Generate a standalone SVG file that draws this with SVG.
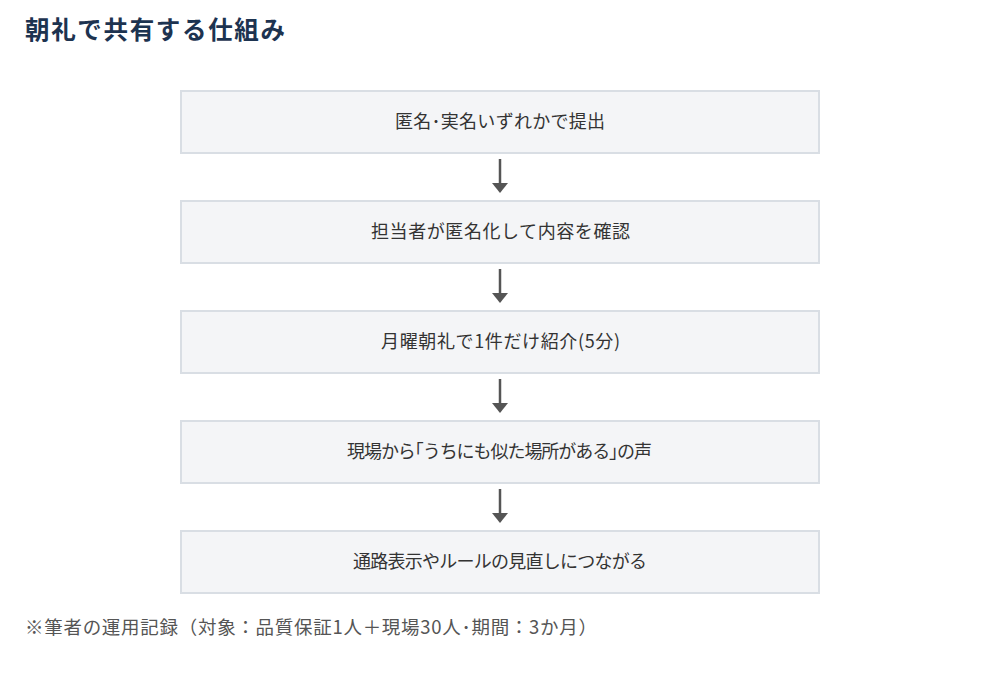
<svg xmlns="http://www.w3.org/2000/svg" width="1000" height="690" viewBox="0 0 1000 690">
<defs>
<style>
.bg{fill:#ffffff}
.title{font-family:"Noto Sans CJK JP","Noto Sans",sans-serif;font-size:24.5px;font-weight:700;fill:#1d3350}
.box{fill:#f4f5f7;stroke:#d9dee4;stroke-width:2}
.lbl{font-family:"Noto Sans CJK JP","Noto Sans",sans-serif;font-size:18px;fill:#333333}
.note{font-family:"Noto Sans CJK JP","Noto Sans",sans-serif;font-size:18.5px;fill:#555555}
.conn{stroke:#555555;stroke-width:2.5;fill:none}
.head{fill:#555555}
</style>
</defs>
<rect class="bg" x="0" y="0" width="1000" height="690"/>
<text class="title" x="25" y="39" textLength="260" lengthAdjust="spacing">朝礼で共有する仕組み</text>
<g id="n1"><rect class="box" x="181" y="91" width="638" height="62"/><text class="lbl" x="395" y="128" textLength="210" lengthAdjust="spacing">匿名･実名いずれかで提出</text></g>
<g id="n2"><rect class="box" x="181" y="201" width="638" height="62"/><text class="lbl" x="371" y="238" textLength="259" lengthAdjust="spacing">担当者が匿名化して内容を確認</text></g>
<g id="n3"><rect class="box" x="181" y="311" width="638" height="62"/><text class="lbl" x="381" y="348" textLength="239" lengthAdjust="spacing">月曜朝礼で1件だけ紹介(5分)</text></g>
<g id="n4"><rect class="box" x="181" y="421" width="638" height="62"/><text class="lbl" x="347" y="458" textLength="305" lengthAdjust="spacing">現場から｢うちにも似た場所がある｣の声</text></g>
<g id="n5"><rect class="box" x="181" y="531" width="638" height="62"/><text class="lbl" x="353" y="568" textLength="294" lengthAdjust="spacing">通路表示やルールの見直しにつながる</text></g>
<g id="connectors">
<line class="conn" x1="500" y1="159" x2="500" y2="184"/><polygon class="head" points="492,183 508,183 500,193"/>
<line class="conn" x1="500" y1="269" x2="500" y2="294"/><polygon class="head" points="492,293 508,293 500,303"/>
<line class="conn" x1="500" y1="379" x2="500" y2="404"/><polygon class="head" points="492,403 508,403 500,413"/>
<line class="conn" x1="500" y1="489" x2="500" y2="514"/><polygon class="head" points="492,513 508,513 500,523"/>
</g>
<text class="note" x="25" y="634" textLength="572" lengthAdjust="spacing">※筆者の運用記録（対象：品質保証1人＋現場30人･期間：3か月）</text>
</svg>
